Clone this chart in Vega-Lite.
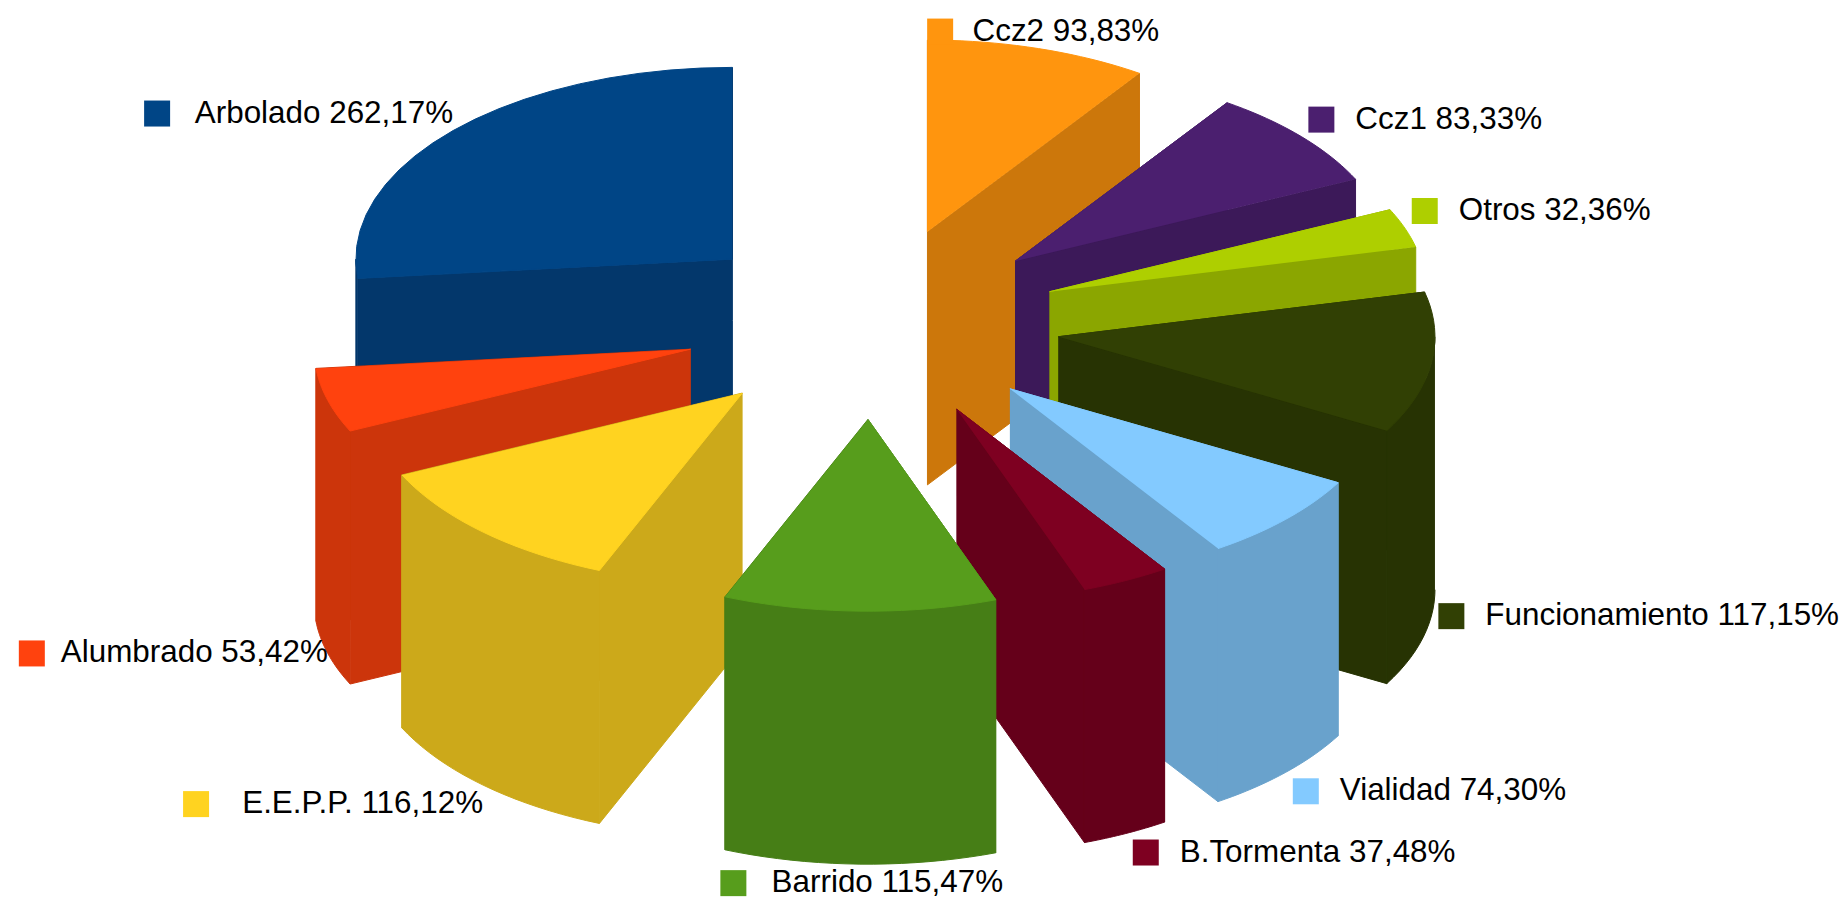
{
"$schema":"https://vega.github.io/schema/vega-lite/v6.json",
"width":1845,"height":898,"padding":0,"autosize":{"type":"none"},
"background":"white",
"view":{"stroke":null},
"params":[
{"name":"cx","value":872},{"name":"cy","value":323.5},
{"name":"rx","value":376.5},{"name":"ry","value":191.8},
{"name":"dep","value":253},{"name":"ex","value":0.5}
],
"data":{"values":[
{"name":"Arbolado","value":262.17,"seq":10},
{"name":"Ccz2","value":93.83,"seq":1},
{"name":"Ccz1","value":83.33,"seq":2},
{"name":"Otros","value":32.36,"seq":3},
{"name":"Funcionamiento","value":117.15,"seq":4},
{"name":"Alumbrado","value":53.42,"seq":9},
{"name":"Vialidad","value":74.30,"seq":5},
{"name":"E.E.P.P.","value":116.12,"seq":8},
{"name":"B.Tormenta","value":37.48,"seq":6},
{"name":"Barrido","value":115.47,"seq":7}
]},
"transform":[
{"joinaggregate":[{"op":"sum","field":"value","as":"total"}]},
{"window":[{"op":"sum","field":"value","as":"cum"}],"sort":[{"field":"seq","order":"ascending"}],"frame":[null,0]},
{"calculate":"2*PI*(datum.cum-datum.value)/datum.total","as":"a0"},
{"calculate":"2*PI*datum.cum/datum.total","as":"a1"},
{"calculate":"(datum.a0+datum.a1)/2","as":"mid"},
{"calculate":"cx+ex*rx*sin(datum.mid)","as":"ax"},
{"calculate":"cy-ex*ry*cos(datum.mid)","as":"ay"}
],
"encoding":{
"x":{"type":"quantitative","scale":{"domain":[0,1845],"nice":false,"zero":false},"axis":null},
"y":{"type":"quantitative","scale":{"domain":[898,0],"nice":false,"zero":false},"axis":null}
},
"layer":[
{
"transform":[
{"calculate":"[0,1,2,3]","as":"face"},{"flatten":["face"]},
{"calculate":"[-1,0,0.05,0.1,0.15,0.2,0.25,0.3,0.35,0.4,0.45,0.5,0.55,0.6,0.65,0.7,0.75,0.8,0.85,0.9,0.95,1]","as":"t"},{"flatten":["t"]},
{"calculate":"[0,1]","as":"lvl"},{"flatten":["lvl"]},
{"filter":"(datum.face<2&&(datum.t==-1||datum.t==0))||(datum.face==2&&datum.t>=0&&datum.a1>PI/2&&datum.a0<3*PI/2)||(datum.face==3&&datum.lvl==0)"},
{"calculate":"datum.face==0?(datum.mid<PI?datum.a0:datum.a1):datum.face==1?(datum.mid<PI?datum.a1:datum.a0):datum.face==2?clamp(datum.a0+datum.t*(datum.a1-datum.a0),PI/2,3*PI/2):datum.a0+datum.t*(datum.a1-datum.a0)","as":"ang"},
{"calculate":"datum.t==-1?datum.ax:datum.ax+rx*sin(datum.ang)","as":"px"},
{"calculate":"(datum.t==-1?datum.ay:datum.ay-ry*cos(datum.ang))+datum.lvl*dep","as":"py"},
{"calculate":"datum.face<2?(datum.lvl==0?(datum.t==-1?0:1):(datum.t==-1?3:2)):datum.face==2?(datum.lvl==0?datum.t:3-datum.t):datum.t","as":"ord"},
{"calculate":"datum.name+'|'+(datum.face==3?'top':'wall')","as":"shade"},
{"calculate":"datum.name+'-'+datum.face","as":"poly"}
],
"mark":{"type":"line","strokeWidth":1,"interpolate":"linear","clip":false},
"encoding":{
"x":{"field":"px","type":"quantitative"},
"y":{"field":"py","type":"quantitative"},
"order":{"field":"ord","type":"quantitative"},
"detail":{"field":"poly"},
"stroke":{"field":"shade","type":"nominal","legend":null,"scale":{
"domain":["Arbolado|top","Arbolado|wall","Ccz2|top","Ccz2|wall","Ccz1|top","Ccz1|wall","Otros|top","Otros|wall","Funcionamiento|top","Funcionamiento|wall","Alumbrado|top","Alumbrado|wall","Vialidad|top","Vialidad|wall","E.E.P.P.|top","E.E.P.P.|wall","B.Tormenta|top","B.Tormenta|wall","Barrido|top","Barrido|wall"],
"range":["#004586","#03376b","#ff950e","#cc770b","#4b1f6f","#3c1959","#aecf00","#8ba600","#314004","#273303","#ff420e","#cc350b","#83caff","#69a2cc","#ffd320","#cca91a","#7e0021","#65001a","#579d1c","#467e16"]
}},
"fill":{"field":"shade","type":"nominal","legend":null,"scale":{
"domain":["Arbolado|top","Arbolado|wall","Ccz2|top","Ccz2|wall","Ccz1|top","Ccz1|wall","Otros|top","Otros|wall","Funcionamiento|top","Funcionamiento|wall","Alumbrado|top","Alumbrado|wall","Vialidad|top","Vialidad|wall","E.E.P.P.|top","E.E.P.P.|wall","B.Tormenta|top","B.Tormenta|wall","Barrido|top","Barrido|wall"],
"range":["#004586","#03376b","#ff950e","#cc770b","#4b1f6f","#3c1959","#aecf00","#8ba600","#314004","#273303","#ff420e","#cc350b","#83caff","#69a2cc","#ffd320","#cca91a","#7e0021","#65001a","#579d1c","#467e16"]
}}
}
},
{
"transform":[
{"calculate":"abs(sin(datum.mid))<0.35?'center':(sin(datum.mid)>0?'left':'right')","as":"anc"},
{"calculate":"datum.ax+rx*sin(datum.mid)","as":"rimx"},
{"calculate":"datum.ay-ry*cos(datum.mid)+(cos(datum.mid)<0?dep:0)+(abs(cos(datum.mid))<0.3?0:(cos(datum.mid)>0?-17:19))","as":"ly"},
{"calculate":"datum.name+' '+replace(format(datum.value,'.2f'),'.',',')+'%'","as":"txt"},
{"calculate":"length(replace(datum.txt,/[.,lirt ]/g,''))","as":"wide"},
{"calculate":"17.5*datum.wide+13*(length(datum.txt)-datum.wide)","as":"tw"},
{"calculate":"datum.anc=='left'?datum.rimx+7:datum.anc=='right'?datum.rimx-47-datum.tw:datum.rimx+4-(47+datum.tw)/2","as":"gl"},
{"calculate":"datum.gl+13","as":"sx"},
{"calculate":"datum.anc=='left'?datum.rimx+54:datum.anc=='right'?datum.rimx:datum.gl+47+datum.tw/2","as":"tx"}
],
"layer":[
{"mark":{"type":"square","size":676,"filled":true,"opacity":1},
"encoding":{
"x":{"field":"sx","type":"quantitative"},
"y":{"field":"ly","type":"quantitative"},
"color":{"field":"name","type":"nominal","legend":null,"scale":{
"domain":["Arbolado","Ccz2","Ccz1","Otros","Funcionamiento","Alumbrado","Vialidad","E.E.P.P.","B.Tormenta","Barrido"],
"range":["#004586","#ff950e","#4b1f6f","#aecf00","#314004","#ff420e","#83caff","#ffd320","#7e0021","#579d1c"]}}
}},
{"mark":{"type":"text","font":"Liberation Sans","fontSize":31.4,"color":"#000000","baseline":"middle","align":{"expr":"datum.anc"}},
"encoding":{
"x":{"field":"tx","type":"quantitative"},
"y":{"field":"ly","type":"quantitative"},
"text":{"field":"txt","type":"nominal"}
}}
]
}
],
"resolve":{"scale":{"fill":"independent"}}
}
